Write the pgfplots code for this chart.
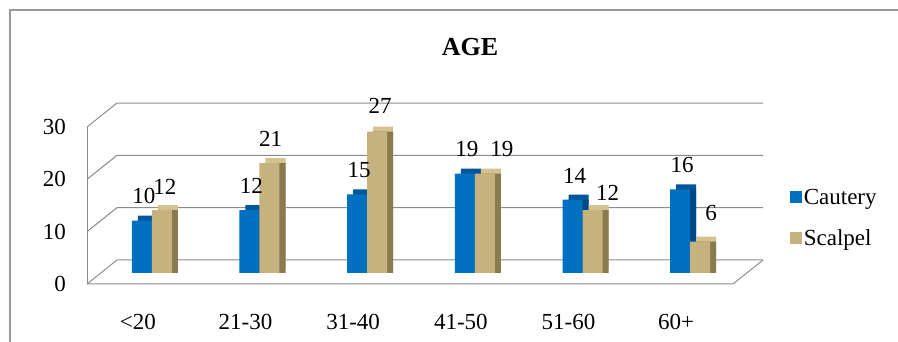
\documentclass[border=0pt]{standalone}
\usepackage{fontspec}
\setmainfont{Liberation Serif}
\usepackage{pgfplots}
\usepackage{pgfplotstable}
\pgfplotsset{compat=1.18}
\definecolor{caut}{HTML}{0070C0}
\definecolor{cautTop}{HTML}{00569A}
\definecolor{cautSide}{HTML}{004A85}
\definecolor{scal}{HTML}{C6B27F}
\definecolor{scalTop}{HTML}{D4C291}
\definecolor{scalSide}{HTML}{8A7A50}
\definecolor{gridc}{HTML}{8C8C8C}
\pgfplotstableread{
x y dx dy
0 10 0 0
1 12 0 0
2 15 0 0
3 19 0 0
4 14 0 0
5 16 0 0
}\cautery
\pgfplotstableread{
x y dx dy
0 12 0 -1
1 21 -2 0
2 27 0 2
3 19 14 0
4 12 12 -7
5 6 8 4
}\scalpel
\begin{document}
\begin{tikzpicture}[x=1pt,y=1pt]
\useasboundingbox (0,0) rectangle (898,342);
\fill[white] (0,0) rectangle (898,342);
\draw[gray!80, line width=1.2pt] (10,0) -- (10,332) -- (898,332);
\foreach \v in {0,10,20,30} {
  \pgfmathsetmacro\yb{342-(260-5.233*\v)}
  \pgfmathsetmacro\yf{342-(284-5.233*\v)}
  \draw[gridc, line width=1pt] (87,\yf) -- (117,\yb) -- (763,\yb);
}
\draw[gridc, line width=1pt] (87,58) -- (87,215);
\draw[gridc, line width=1pt] (87,58) -- (733,58) -- (763,82);
\node[font=\bfseries\fontsize{26}{30}\selectfont] at (470,295) {AGE};
\begin{axis}[at={(98pt,69pt)}, anchor=south west, scale only axis,
  width=646pt, height=157pt, xmin=-0.5, xmax=5.5, ymin=0, ymax=30,
  ybar, bar width=20pt,
  axis line style={draw=none}, tick style={draw=none},
  /pgf/number format/assume math mode=true,
  ytick={0,10,20,30},
  yticklabel style={font=\fontsize{23}{26}\selectfont, xshift=-28.5pt, yshift=-11pt},
  xtick={0,1,2,3,4,5},
  xticklabels={{<20},{21-30},{31-40},{41-50},{51-60},{60+}},
  xticklabel style={font=\fontsize{23}{26}\selectfont, xshift=-14pt, yshift=-33pt},
  legend style={at={(1.066,0.35)}, anchor=west, draw=none, fill=none,
    font=\fontsize{23}{26}\selectfont, row sep=20pt},
  legend cell align=left,
  clip=false,
]
% Cautery
\addplot[forget plot, fill=cautTop, draw=none, bar shift=-10pt, xshift=6pt, yshift=5pt]
  table[x=x, y=y] {\cautery};
\addplot[forget plot, fill=cautSide, draw=none, bar shift=-10pt, xshift=6pt]
  table[x=x, y=y] {\cautery};
\addplot[fill=caut, draw=none, bar shift=-10pt,
  legend image code/.code={\fill[caut] (0pt,-6pt) rectangle (12pt,6pt);},
  visualization depends on={\thisrow{dx} \as \dx},
  visualization depends on={\thisrow{dy} \as \dy},
  nodes near coords, every node near coord/.append style={font=\fontsize{23}{26}\selectfont, xshift=2pt+\dx pt, yshift=13pt+\dy pt, text=black}]
  table[x=x, y=y] {\cautery};
% Scalpel
\addplot[forget plot, fill=scalTop, draw=none, bar shift=10pt, xshift=6pt, yshift=5pt]
  table[x=x, y=y] {\scalpel};
\addplot[forget plot, fill=scalSide, draw=none, bar shift=10pt, xshift=6pt]
  table[x=x, y=y] {\scalpel};
\addplot[fill=scal, draw=none, bar shift=10pt,
  legend image code/.code={\fill[scal] (0pt,-6pt) rectangle (12pt,6pt);},
  visualization depends on={\thisrow{dx} \as \dx},
  visualization depends on={\thisrow{dy} \as \dy},
  nodes near coords, every node near coord/.append style={font=\fontsize{23}{26}\selectfont, xshift=3pt+\dx pt, yshift=13pt+\dy pt, text=black}]
  table[x=x, y=y] {\scalpel};
\legend{Cautery,Scalpel}
\end{axis}
\end{tikzpicture}
\end{document}
